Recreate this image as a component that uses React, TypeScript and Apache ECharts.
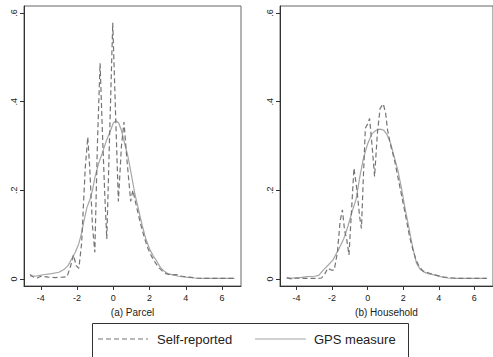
import React, { useEffect, useRef } from "react";
import * as echarts from "echarts";

// ---- Data ----
const xTicks = [-4, -2, 0, 2, 4, 6];
const yTicks = [0, 0.2, 0.4, 0.6];
const panelTitles = ["(a) Parcel", "(b) Household"];
const seriesNames = ["Self-reported", "GPS measure"];

// (a) Parcel — self-reported (dashed)
const parcelSelfX = [-4.6, -4.4, -4.2, -4.0, -3.6, -3.2, -2.8, -2.55, -2.35, -2.2, -2.05, -1.9, -1.75, -1.55, -1.41, -1.3, -1.15, -1.02, -0.88, -0.73, -0.6, -0.48, -0.36, -0.22, -0.03, 0.12, 0.28, 0.45, 0.59, 0.75, 0.96, 1.08, 1.3, 1.5, 1.7, 1.9, 2.1, 2.3, 2.5, 2.7, 2.9, 3.2, 3.5, 3.8, 4.2, 4.6, 5.0, 5.5, 6.0, 6.7];
const parcelSelfY = [0.01, 0.004, 0.002, 0.006, 0.004, 0.003, 0.004, 0.005, 0.03, 0.054, 0.03, 0.024, 0.08, 0.25, 0.32, 0.25, 0.12, 0.06, 0.3, 0.487, 0.33, 0.2, 0.09, 0.3, 0.578, 0.38, 0.175, 0.3, 0.354, 0.27, 0.175, 0.2, 0.16, 0.125, 0.095, 0.07, 0.052, 0.038, 0.026, 0.018, 0.012, 0.009, 0.01, 0.006, 0.004, 0.002, 0.001, 0.001, 0.001, 0.001];

// (a) Parcel — GPS measure (solid)
const parcelGpsX = [-4.6, -4.2, -3.8, -3.4, -3.0, -2.7, -2.5, -2.3, -2.1, -1.9, -1.75, -1.6, -1.45, -1.3, -1.15, -1.0, -0.8, -0.6, -0.4, -0.2, 0, 0.15, 0.3, 0.45, 0.6, 0.8, 1.0, 1.2, 1.4, 1.6, 1.8, 2.0, 2.2, 2.4, 2.6, 2.8, 3.0, 3.3, 3.6, 4.0, 4.5, 5.0, 5.5, 6.0, 6.7];
const parcelGpsY = [0.006, 0.007, 0.01, 0.012, 0.015, 0.022, 0.03, 0.045, 0.06, 0.08, 0.104, 0.135, 0.162, 0.178, 0.2, 0.232, 0.262, 0.285, 0.31, 0.33, 0.352, 0.357, 0.352, 0.335, 0.31, 0.278, 0.235, 0.19, 0.155, 0.12, 0.09, 0.068, 0.052, 0.04, 0.026, 0.018, 0.012, 0.009, 0.006, 0.004, 0.002, 0.001, 0.001, 0.001, 0.001];

// (b) Household — self-reported (dashed)
const hhSelfX = [-4.55, -4.3, -4.0, -3.6, -3.2, -2.8, -2.6, -2.4, -2.24, -2.05, -1.88, -1.7, -1.55, -1.42, -1.3, -1.18, -1.05, -0.9, -0.77, -0.6, -0.45, -0.35, -0.25, -0.13, 0.0, 0.11, 0.25, 0.39, 0.55, 0.7, 0.88, 1.01, 1.12, 1.3, 1.5, 1.7, 1.9, 2.1, 2.36, 2.55, 2.72, 2.9, 3.1, 3.4, 3.7, 4.0, 4.3, 4.8, 5.3, 6.0, 6.7];
const hhSelfY = [0.003, 0.0, 0.002, 0.001, 0.001, 0.001, 0.002, 0.012, 0.024, 0.02, 0.02, 0.06, 0.13, 0.156, 0.11, 0.09, 0.054, 0.16, 0.25, 0.2, 0.14, 0.114, 0.22, 0.34, 0.35, 0.362, 0.3, 0.231, 0.33, 0.385, 0.395, 0.374, 0.336, 0.3, 0.27, 0.23, 0.19, 0.15, 0.095, 0.065, 0.043, 0.028, 0.018, 0.014, 0.01, 0.007, 0.004, 0.002, 0.001, 0.001, 0.001];

// (b) Household — GPS measure (solid)
const hhGpsX = [-4.55, -4.2, -3.8, -3.4, -3.0, -2.75, -2.5, -2.2, -1.95, -1.6, -1.35, -1.1, -0.85, -0.65, -0.45, -0.25, 0, 0.25, 0.5, 0.7, 0.9, 1.1, 1.3, 1.5, 1.7, 1.9, 2.1, 2.3, 2.45, 2.6, 2.75, 2.95, 3.15, 3.4, 3.75, 4.1, 4.5, 5.0, 5.5, 6.0, 6.7];
const hhGpsY = [0.002, 0.002, 0.003, 0.005, 0.006, 0.008, 0.02, 0.032, 0.043, 0.069, 0.09, 0.12, 0.155, 0.18, 0.228, 0.27, 0.305, 0.328, 0.336, 0.338, 0.336, 0.325, 0.305, 0.275, 0.245, 0.205, 0.16, 0.12, 0.088, 0.06, 0.035, 0.022, 0.016, 0.012, 0.009, 0.005, 0.002, 0.001, 0.001, 0.001, 0.001];

const zip = (xs: number[], ys: number[]) => xs.map((x, i) => [x, ys[i]]);

const FONT = "Liberation Sans, Arial, Helvetica, sans-serif";
const DASH_COLOR = "#747474";
const SOLID_COLOR = "#a6a6a6";
const DASH_PATTERN = [5, 3];

export default function App() {
  const ref = useRef<HTMLDivElement>(null);

  useEffect(() => {
    if (!ref.current) return;
    const chart = echarts.init(ref.current, null, { renderer: "svg" });

    const xAxisFor = (gridIndex: number) => ({
      type: "value",
      gridIndex,
      min: -4.93,
      max: 7.05,
      name: panelTitles[gridIndex],
      nameLocation: "middle",
      nameGap: 21,
      nameTextStyle: { fontSize: 10, color: "#222", fontFamily: FONT },
      splitLine: { show: false },
      axisLine: { onZero: false, lineStyle: { color: "#333", width: 1 } },
      axisTick: { show: true, length: 4, customValues: xTicks, lineStyle: { color: "#333" } },
      axisLabel: { customValues: xTicks, fontSize: 9, color: "#222", margin: 7, fontFamily: FONT },
    });

    const yAxisFor = (gridIndex: number) => ({
      type: "value",
      gridIndex,
      min: -0.016,
      max: 0.616,
      splitLine: { show: false },
      axisLine: { onZero: false, lineStyle: { color: "#333", width: 1 } },
      axisTick: { show: true, length: 4, customValues: yTicks, lineStyle: { color: "#333" } },
      axisLabel: {
        customValues: yTicks,
        rotate: 90,
        fontSize: 9,
        color: "#222",
        margin: 6,
        fontFamily: FONT,
        formatter: (v: number) => (Math.abs(v) < 1e-9 ? "0" : "." + Math.round(v * 10)),
      },
    });

    const lineSeries = (name: string, gridIndex: number, data: number[][], dashed: boolean) => ({
      type: "line",
      name,
      xAxisIndex: gridIndex,
      yAxisIndex: gridIndex,
      data,
      symbol: "none",
      smooth: false,
      lineStyle: {
        color: dashed ? DASH_COLOR : SOLID_COLOR,
        width: 1.2,
        type: dashed ? DASH_PATTERN : "solid",
      },
      itemStyle: { color: dashed ? DASH_COLOR : SOLID_COLOR },
      z: dashed ? 3 : 2,
    });

    const legendY = 339;
    chart.setOption({
      animation: false,
      backgroundColor: "#ffffff",
      textStyle: { fontFamily: FONT },
      grid: [
        { left: 24, top: 6, width: 217, height: 280, show: true, borderColor: "#666", borderWidth: 1 },
        { left: 280, top: 6, width: 217, height: 280, show: true, borderColor: "#666", borderWidth: 1 },
      ],
      xAxis: [xAxisFor(0), xAxisFor(1)],
      yAxis: [yAxisFor(0), yAxisFor(1)],
      graphic: [
        {
          type: "rect",
          shape: { x: 92.5, y: 323.5, width: 316, height: 60 },
          style: { fill: "none", stroke: "#333", lineWidth: 1 },
          silent: true,
        },
        {
          type: "line",
          shape: { x1: 98, y1: legendY, x2: 148, y2: legendY },
          style: { stroke: DASH_COLOR, lineWidth: 1.2, lineDash: DASH_PATTERN },
          silent: true,
        },
        {
          type: "text",
          x: 157,
          y: legendY,
          style: { text: seriesNames[0], fontSize: 13, fill: "#222", fontFamily: FONT, verticalAlign: "middle", align: "left" },
          silent: true,
        },
        {
          type: "line",
          shape: { x1: 255, y1: legendY, x2: 306, y2: legendY },
          style: { stroke: SOLID_COLOR, lineWidth: 1.2 },
          silent: true,
        },
        {
          type: "text",
          x: 314,
          y: legendY,
          style: { text: seriesNames[1], fontSize: 13, fill: "#222", fontFamily: FONT, verticalAlign: "middle", align: "left" },
          silent: true,
        },
      ],
      series: [
        lineSeries(seriesNames[1], 0, zip(parcelGpsX, parcelGpsY), false),
        lineSeries(seriesNames[0], 0, zip(parcelSelfX, parcelSelfY), true),
        lineSeries(seriesNames[1], 1, zip(hhGpsX, hhGpsY), false),
        lineSeries(seriesNames[0], 1, zip(hhSelfX, hhSelfY), true),
      ],
    });

    return () => chart.dispose();
  }, []);

  return (
    <div
      ref={ref}
      style={{ position: "fixed", left: 0, top: 0, width: 493, height: 357, background: "#fff" }}
    />
  );
}
